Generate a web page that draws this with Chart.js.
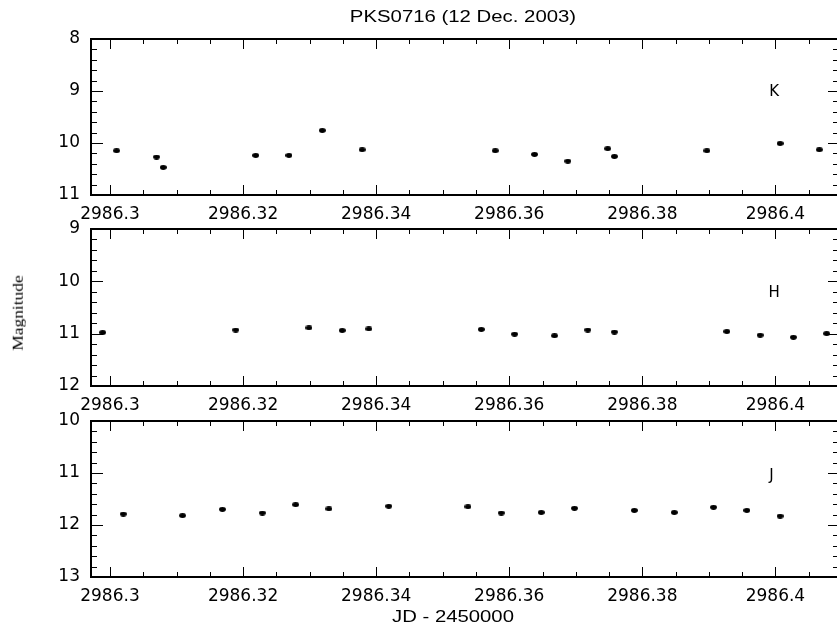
<!DOCTYPE html>
<html>
<head>
<meta charset="utf-8">
<script src="https://cdn.jsdelivr.net/npm/chart.js@4/dist/chart.umd.min.js"></script>
<style>
  html, body { margin: 0; padding: 0; background: #fff; }
  #wrap { position: relative; width: 837px; height: 627px; overflow: hidden; background: #fff; }
  canvas { position: absolute; left: 0; }
  .txt { position: absolute; white-space: nowrap; line-height: 1; color: #000; transform-origin: 0 0; }
</style>
</head>
<body>
<div id="wrap">
  <canvas id="cK" width="843" height="225" style="top:0px"></canvas>
  <canvas id="cH" width="843" height="216" style="top:200px"></canvas>
  <canvas id="cJ" width="843" height="215" style="top:392px"></canvas>
  <div class="txt" id="title" style="left:462.5px; top:15.5px; font-family:'Liberation Sans',Arial,sans-serif; font-size:16.3px; transform: scaleX(1.25) translate(-50%,-50%);">PKS0716 (12 Dec. 2003)</div>
  <div class="txt" id="xlab" style="left:453px; top:616px; font-family:'Liberation Sans',Arial,sans-serif; font-size:16.5px; transform: scaleX(1.23) translate(-50%,-50%);">JD - 2450000</div>
  <div class="txt" id="ylab" style="left:18px; top:312.5px; font-family:'Liberation Serif','Times New Roman',serif; font-size:14.5px; transform: rotate(-90deg) scaleX(1.2) translate(-50%,-50%);">Magnitude</div>
</div>
<script>
// ---- data ----
const xTickValues = [2986.30, 2986.32, 2986.34, 2986.36, 2986.38, 2986.40];
const xTickLabels = ['2986.3', '2986.32', '2986.34', '2986.36', '2986.38', '2986.4'];
const xMin = 2986.29715;
const xMax = 2986.4094;

const kJD  = [2986.3010, 2986.3070, 2986.3080, 2986.3219, 2986.3269, 2986.3319, 2986.3379, 2986.3579, 2986.3638, 2986.3688, 2986.3748, 2986.3758, 2986.3897, 2986.4007, 2986.4066];
const kMag = [10.15, 10.27, 10.47, 10.24, 10.24, 9.76, 10.13, 10.15, 10.22, 10.35, 10.11, 10.26, 10.15, 10.01, 10.13];
const kTicks = [8, 9, 10, 11];

const hJD  = [2986.2989, 2986.3189, 2986.3299, 2986.3349, 2986.3389, 2986.3558, 2986.3608, 2986.3668, 2986.3718, 2986.3758, 2986.3927, 2986.3977, 2986.4027, 2986.4077];
const hMag = [10.98, 10.93, 10.89, 10.94, 10.91, 10.92, 11.01, 11.04, 10.93, 10.97, 10.96, 11.03, 11.07, 11.00];
const hTicks = [9, 10, 11, 12];

const jJD  = [2986.3020, 2986.3109, 2986.3169, 2986.3229, 2986.3279, 2986.3329, 2986.3419, 2986.3538, 2986.3588, 2986.3648, 2986.3698, 2986.3788, 2986.3848, 2986.3907, 2986.3957, 2986.4007];
const jMag = [11.79, 11.82, 11.70, 11.77, 11.61, 11.69, 11.64, 11.65, 11.77, 11.76, 11.68, 11.72, 11.76, 11.66, 11.72, 11.83];
const jTicks = [10, 11, 12, 13];

const bandNames = ['K', 'H', 'J'];
const bandLabelX = [2986.3998, 2986.3998, 2986.3994];
const bandLabelY = [9.03, 10.22, 11.06];

// ---- drawing ----
const dot = document.createElement('canvas');
dot.width = 7; dot.height = 5;
(function(){ const c = dot.getContext('2d'); c.fillStyle = '#000'; c.beginPath(); c.ellipse(3.5, 2.5, 3.4, 2.4, 0, 0, Math.PI*2); c.fill(); })();

const tickFont = { family: "'DejaVu Sans', sans-serif", size: 17 };

const framePlugin = {
  id: 'frame',
  afterDatasetsDraw(chart, args, opts) {
    const ctx = chart.ctx;
    const { left, right, top, bottom } = chart.chartArea;
    const xs = chart.scales.x, ys = chart.scales.y;
    ctx.save();
    ctx.strokeStyle = '#000';
    ctx.lineWidth = 1;
    ctx.beginPath();
    // x ticks (minor every 0.005, major every 0.02)
    for (let k = 0; k < 40; k++) {
      const v = 2986.295 + k * 0.005;
      if (v < xs.min || v > xs.max) continue;
      const major = (k % 4) === 1;
      const len = major ? 10 : 5;
      const px = Math.round(xs.getPixelForValue(v)) + 0.5;
      ctx.moveTo(px, bottom); ctx.lineTo(px, bottom - len);
      ctx.moveTo(px, top); ctx.lineTo(px, top + len);
    }
    // y ticks (minor every 0.2, major every 1)
    for (let k = 0; k <= 15; k++) {
      const v = ys.min + k * 0.2;
      const major = (k % 5) === 0;
      const py = Math.round(ys.getPixelForValue(v)) + 0.5;
      const ll = major ? 12 : 6, rl = major ? 10 : 5;
      ctx.moveTo(left, py); ctx.lineTo(left + ll, py);
      ctx.moveTo(right, py); ctx.lineTo(right - rl, py);
    }
    ctx.stroke();
    ctx.lineWidth = 2;
    ctx.strokeRect(left, top, right - left, bottom - top);
    // band label
    ctx.fillStyle = '#000';
    ctx.font = "15px 'DejaVu Sans', sans-serif";
    ctx.textAlign = 'center';
    ctx.textBaseline = 'middle';
    ctx.fillText(opts.text, xs.getPixelForValue(opts.x), ys.getPixelForValue(opts.y));
    ctx.restore();
  }
};

function makePanel(id, jd, mag, yTicks, padTop, axisH, idx) {
  const pts = jd.map((x, i) => ({ x: x, y: mag[i] }));
  new Chart(document.getElementById(id), {
    type: 'scatter',
    data: { datasets: [{ data: pts, pointStyle: dot, pointRadius: 4, backgroundColor: '#000', borderWidth: 0 }] },
    options: {
      responsive: false,
      animation: false,
      devicePixelRatio: 1,
      layout: { padding: { left: 0, right: 5, top: padTop, bottom: 0 } },
      plugins: {
        legend: { display: false },
        tooltip: { enabled: false },
        title: { display: false },
        frame: { text: bandNames[idx], x: bandLabelX[idx], y: bandLabelY[idx] }
      },
      scales: {
        x: {
          type: 'linear', min: xMin, max: xMax,
          grid: { display: false, drawTicks: false },
          border: { display: false },
          afterBuildTicks: a => { a.ticks = xTickValues.map(v => ({ value: v })); },
          afterFit: a => { a.height = axisH; },
          ticks: { callback: (v, i) => xTickLabels[i], font: tickFont, color: '#000', padding: 9, maxRotation: 0, autoSkip: false }
        },
        y: {
          type: 'linear', reverse: true, min: yTicks[0], max: yTicks[yTicks.length - 1],
          grid: { display: false, drawTicks: false },
          border: { display: false },
          afterBuildTicks: a => { a.ticks = yTicks.map(v => ({ value: v })); },
          afterFit: a => { a.width = 91; },
          ticks: { callback: (v, i) => String(yTicks[i]), font: tickFont, color: '#000', padding: 11, autoSkip: false }
        }
      }
    },
    plugins: [framePlugin]
  });
}

makePanel('cK', kJD, kMag, kTicks, 39, 30, 0);
makePanel('cH', hJD, hMag, hTicks, 29, 30, 1);
makePanel('cJ', jJD, jMag, jTicks, 29, 30, 2);
</script>
</body>
</html>
